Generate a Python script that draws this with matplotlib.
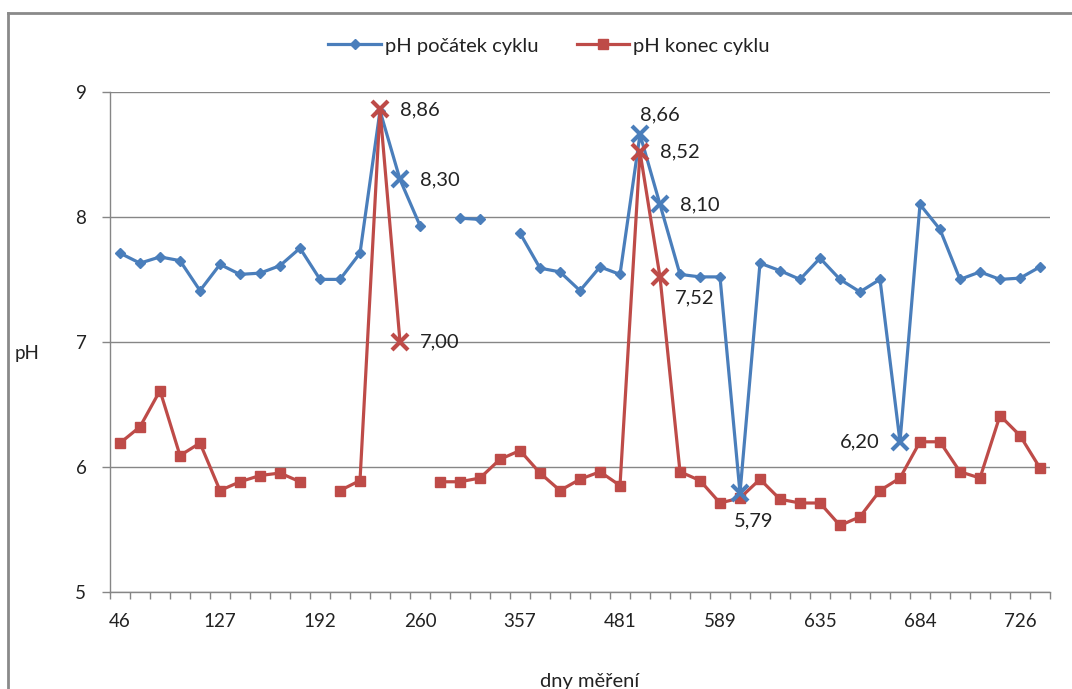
import matplotlib
matplotlib.use("Agg")
import matplotlib.pyplot as plt
import numpy as np

plt.rcParams['font.family'] = ['Lato', 'DejaVu Sans']

nan = np.nan

# pH at start of the cycle (blue) and at the end (red), 47 measurement days
ph_start = [7.71, 7.63, 7.68, 7.65, 7.41, 7.62, 7.54, 7.55, 7.61, 7.75,
            7.50, 7.50, 7.71, 8.85, 8.30, 7.93, nan, 7.99, 7.98, nan,
            7.87, 7.59, 7.56, 7.41, 7.60, 7.54, 8.66, 8.10, 7.54, 7.52,
            7.52, 5.79, 7.63, 7.57, 7.50, 7.67, 7.50, 7.40, 7.50, 6.20,
            8.10, 7.90, 7.50, 7.56, 7.50, 7.51, 7.60]
ph_end = [6.19, 6.32, 6.61, 6.09, 6.19, 5.81, 5.88, 5.93, 5.95, 5.88,
          nan, 5.81, 5.89, 8.86, 7.00, nan, 5.88, 5.88, 5.91, 6.06,
          6.13, 5.95, 5.81, 5.90, 5.96, 5.85, 8.52, 7.52, 5.96, 5.89,
          5.71, 5.75, 5.90, 5.74, 5.71, 5.71, 5.53, 5.60, 5.81, 5.91,
          6.20, 6.20, 5.96, 5.91, 6.41, 6.25, 5.99]

# only every fifth day is labelled on the axis
day_labels = ['46', '127', '192', '260', '357', '481', '589', '635', '684', '726']

# highlighted points (drawn with an X and a value label)
hi_start = [14, 26, 27, 31, 39]
hi_end = [13, 14, 26, 27]

# label offsets in pixels (dx, dy, ha)
off_start = {14: (20, 0, 'left'), 26: (0, 20, 'left'), 27: (20, 0, 'left'),
             31: (-6, -28, 'left'), 39: (-20, 0, 'right')}
off_end = {13: (20, 0, 'left'), 14: (20, 0, 'left'), 26: (20, 0, 'left'),
           27: (15, -21, 'left')}

blue = '#4A7EBB'
red = '#BE4B48'
grey = '#868686'
txt = '#222222'
fs = 13.5
fs_lab = 14.5

fig = plt.figure(figsize=(10.72, 6.89), dpi=100)
ax = fig.add_axes([110 / 1072, 1 - 591.7 / 689, 940 / 1072, 499.7 / 689])

x = np.arange(len(ph_start))
ys = np.array(ph_start)
ye = np.array(ph_end)

norm_s = [i for i in x if i not in hi_start]
norm_e = [i for i in x if i not in hi_end]

ax.plot(x, ys, color=blue, lw=2.3, marker='D', ms=5, markevery=norm_s,
        label='pH počátek cyklu', zorder=3)
ax.plot(x, ye, color=red, lw=2.3, marker='s', ms=6.5, markevery=norm_e,
        label='pH konec cyklu', zorder=3)
ax.plot(x[hi_start], ys[hi_start], ls='none', marker='x', ms=11, mew=3,
        color=blue, zorder=4)
ax.plot(x[hi_end], ye[hi_end], ls='none', marker='x', ms=11, mew=3,
        color=red, zorder=5)

for i in hi_start:
    dx, dy, ha = off_start[i]
    ax.annotate(f"{ys[i]:.2f}".replace('.', ','), (x[i], ys[i]),
                xytext=(dx, dy), textcoords='offset pixels', ha=ha,
                va='center', fontsize=fs_lab, color=txt, zorder=6)
for i in hi_end:
    dx, dy, ha = off_end[i]
    ax.annotate(f"{ye[i]:.2f}".replace('.', ','), (x[i], ye[i]),
                xytext=(dx, dy), textcoords='offset pixels', ha=ha,
                va='center', fontsize=fs_lab, color=txt, zorder=6)

ax.set_xlim(-0.5, len(x) - 0.5)
ax.set_ylim(5, 9)
ax.set_yticks([5, 6, 7, 8, 9])
ax.set_xticks(np.arange(0, len(x), 5))
ax.set_xticklabels(day_labels)
ax.set_xticks(np.arange(-0.5, len(x), 1), minor=True)
ax.grid(axis='y', color=grey, lw=1)
ax.set_axisbelow(True)

for s in ['top', 'right']:
    ax.spines[s].set_visible(False)
for s in ['left', 'bottom']:
    ax.spines[s].set_color(grey)
    ax.spines[s].set_linewidth(1)

ax.tick_params(axis='x', which='major', length=0, pad=15, labelsize=fs,
               labelcolor=txt)
ax.tick_params(axis='x', which='minor', length=5, color=grey, width=1)
ax.tick_params(axis='y', which='major', length=6, color=grey, width=1,
               pad=11, labelsize=fs, labelcolor=txt)
ax.tick_params(axis='y', which='minor', length=0)

fig.text(27 / 1072, 1 - 353 / 689, 'pH', fontsize=fs, ha='center',
         va='center', color=txt)
fig.text(590 / 1072, 1 - 681 / 689, 'dny měření', fontsize=fs_lab,
         ha='center', va='center', color=txt)

fig.legend(loc='center', bbox_to_anchor=(549 / 1072, 1 - 46 / 689), ncol=2,
           frameon=False, fontsize=fs_lab, handlelength=2.6,
           columnspacing=1.9, handletextpad=0.2, labelcolor=txt)

# outer chart border (left and top edges visible in the original)
fig.add_artist(plt.Line2D([8 / 1072, 8 / 1072], [0, 1 - 13 / 689],
                          color='#8a8a8a', lw=2, transform=fig.transFigure))
fig.add_artist(plt.Line2D([8 / 1072, 1], [1 - 13 / 689, 1 - 13 / 689],
                          color='#8a8a8a', lw=2, transform=fig.transFigure))

fig.savefig('out.png', dpi=100)
